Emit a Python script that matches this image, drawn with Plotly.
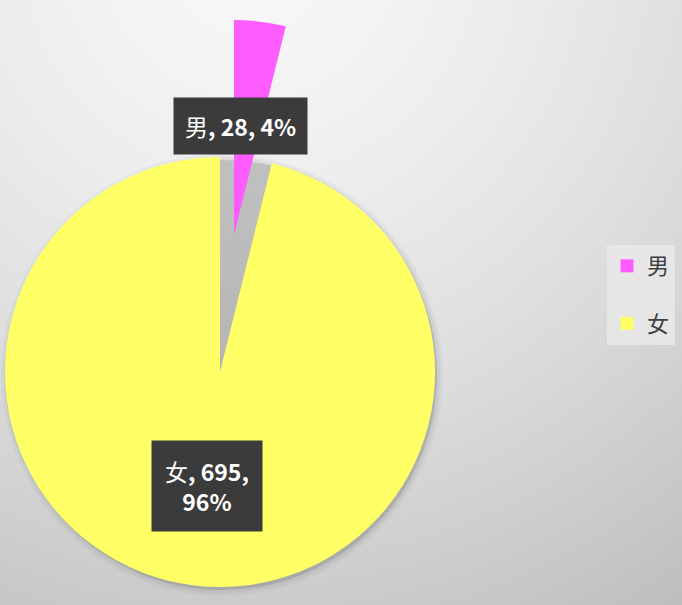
import base64
import struct
import zlib

import plotly.graph_objects as go

# ---------------- data ----------------
labels = ["男", "女"]
values = [28, 695]
colors = ["#FF5CFF", "#FFFF66"]

total = sum(values)
percents = [round(v * 100 / total) for v in values]


# ---------------- background gradient (style only) ----------------
def make_bg_png(w, h):
    cx, cy = 250.0, -50.0
    rows = []
    for j in range(h):
        row = bytearray([0])
        for i in range(w):
            d = ((i - cx) ** 2 + (j - cy) ** 2) ** 0.5
            f = min(1.0, d / 800.0) ** 1.5
            row.append(int(248 - 60 * f))
        rows.append(bytes(row))
    raw = b"".join(rows)

    def chunk(tag, data):
        c = struct.pack(">I", len(data)) + tag + data
        return c + struct.pack(">I", zlib.crc32(tag + data) & 0xFFFFFFFF)

    png = b"\x89PNG\r\n\x1a\n"
    png += chunk(b"IHDR", struct.pack(">IIBBBBB", w, h, 8, 0, 0, 0, 0))
    png += chunk(b"IDAT", zlib.compress(raw, 9))
    png += chunk(b"IEND", b"")
    return "data:image/png;base64," + base64.b64encode(png).decode()


W, H = 682, 605
bg = make_bg_png(W, H)


def dom(cx, cy, r):
    return dict(x=[(cx - r) / W, (cx + r) / W], y=[1 - (cy + r) / H, 1 - (cy - r) / H])


R = 215
CX, CY = 220, 372
PCX, PCY = 234, 235  # exploded slice centre

fig = go.Figure()

# soft shadow beneath the pie
for extra, alpha in [(6, 0.05), (3, 0.08), (0, 0.22)]:
    fig.add_trace(go.Pie(
        labels=["s"], values=[1], domain=dom(CX + 2, CY + 3, R + extra),
        marker=dict(colors=[f"rgba(90,90,90,{alpha})"], line=dict(width=0)),
        textinfo="none", hoverinfo="skip", showlegend=False, sort=False,
    ))

# main pie (women), men slice transparent
fig.add_trace(go.Pie(
    labels=labels, values=values, domain=dom(CX, CY, R),
    marker=dict(colors=["rgba(0,0,0,0)", colors[1]], line=dict(width=0)),
    textinfo="none", sort=False, direction="clockwise", rotation=0,
    showlegend=False, hoverinfo="label+value+percent",
))

# exploded slice (men)
fig.add_trace(go.Pie(
    labels=labels, values=values, domain=dom(PCX, PCY, R),
    marker=dict(colors=[colors[0], "rgba(0,0,0,0)"], line=dict(width=0)),
    textinfo="none", sort=False, direction="clockwise", rotation=0,
    showlegend=False, hoverinfo="label+value+percent",
))

# legend entries
for lab, col in zip(labels, colors):
    fig.add_trace(go.Scatter(
        x=[None], y=[None], mode="markers", name=lab, legendgroup=lab,
        marker=dict(symbol="square", size=13, color=col),
    ))

# data labels
label_texts = [
    f"{labels[0]}<b>, {values[0]}, {percents[0]}%</b>",
    f"{labels[1]}<b>, {values[1]},</b><br><b>{percents[1]}%</b>",
]
label_pos = [(240 / W, 1 - 126 / H), (207 / W, 1 - 486 / H)]
label_pads = [11, 13]
for txt, (ax_, ay_), pad in zip(label_texts, label_pos, label_pads):
    fig.add_annotation(
        x=ax_, y=ay_, xref="paper", yref="paper", showarrow=False,
        xanchor="center", yanchor="middle",
        text=txt, font=dict(family="Noto Sans CJK SC, Open Sans", size=23, color="#FFFFFF"),
        bgcolor="#3B3B3B", borderpad=pad, align="center",
    )

fig.update_layout(
    width=W, height=H,
    margin=dict(l=0, r=0, t=0, b=0),
    paper_bgcolor="#E6E6E6",
    plot_bgcolor="rgba(0,0,0,0)",
    xaxis=dict(visible=False),
    yaxis=dict(visible=False),
    images=[dict(source=bg, xref="paper", yref="paper", x=0, y=1, sizex=1, sizey=1,
                 sizing="stretch", layer="below", xanchor="left", yanchor="top")],
    legend=dict(
        x=607 / W, y=1 - 245 / H, xanchor="left", yanchor="top",
        bgcolor="rgba(232,232,232,0.9)", traceorder="grouped", tracegroupgap=26,
        font=dict(family="Noto Sans CJK SC", size=22, color="#404040"),
        itemwidth=30,
    ),
    showlegend=True,
)

fig.write_html(
    "out.html",
    config={"displayModeBar": False},
    post_script="document.body.style.margin='0';document.body.style.overflow='hidden';",
)
